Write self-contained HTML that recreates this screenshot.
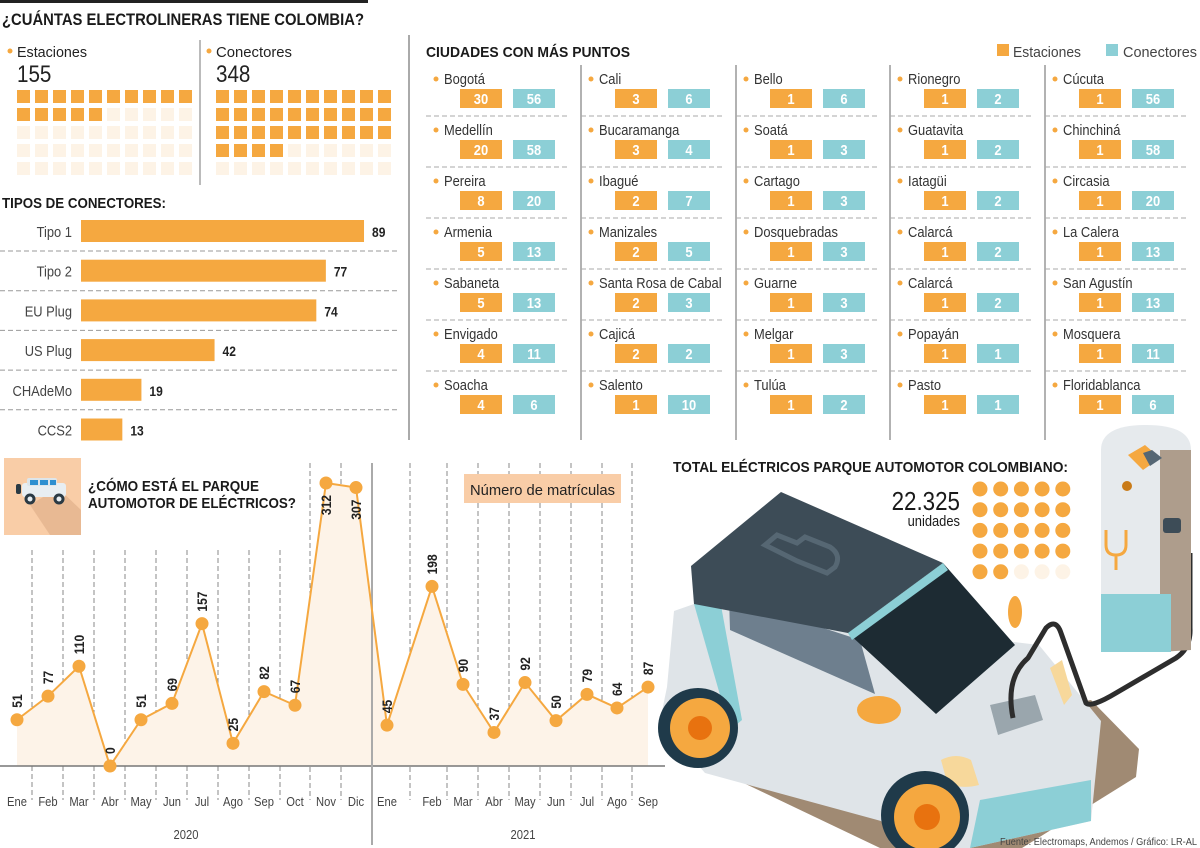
<!DOCTYPE html>
<html><head><meta charset="utf-8"><style>
body{margin:0;background:#fff;}
svg{display:block;font-family:"Liberation Sans",sans-serif;}
</style></head><body>
<svg id="root" width="1200" height="848" viewBox="0 0 1200 848" xmlns="http://www.w3.org/2000/svg">
<rect width="1200" height="848" fill="#fff"/>
<rect x="0" y="0" width="368" height="3" fill="#222"/>
<text x="2" y="25" font-size="17" font-weight="bold" fill="#1a1a1a" textLength="362" lengthAdjust="spacingAndGlyphs">¿CUÁNTAS ELECTROLINERAS TIENE COLOMBIA?</text>
<circle cx="10" cy="51" r="2.5" fill="#f5a840"/>
<text x="17" y="57" font-size="15" fill="#222" textLength="70" lengthAdjust="spacingAndGlyphs">Estaciones</text>
<text x="17" y="82" font-size="24" fill="#222">155</text>
<circle cx="209" cy="51" r="2.5" fill="#f5a840"/>
<text x="216" y="57" font-size="15" fill="#222" textLength="76" lengthAdjust="spacingAndGlyphs">Conectores</text>
<text x="216" y="82" font-size="24" fill="#222">348</text>
<rect x="199" y="40" width="2" height="145" fill="#bbb"/>
<g id="waffles"></g>
<text x="2" y="208" font-size="15" font-weight="bold" fill="#1a1a1a" textLength="164" lengthAdjust="spacingAndGlyphs">TIPOS DE CONECTORES:</text>
<g id="bars"></g>
<rect x="408" y="35" width="2" height="405" fill="#aaa"/>
<text x="426" y="57" font-size="15" font-weight="bold" fill="#1a1a1a" textLength="204" lengthAdjust="spacingAndGlyphs">CIUDADES CON MÁS PUNTOS</text>
<g>
<rect x="997" y="44" width="12" height="12" fill="#f5a840"/>
<text x="1013" y="57" font-size="15" fill="#444" textLength="68" lengthAdjust="spacingAndGlyphs">Estaciones</text>
<rect x="1106" y="44" width="12" height="12" fill="#8ccfd6"/>
<text x="1123" y="57" font-size="15" fill="#444" textLength="74" lengthAdjust="spacingAndGlyphs">Conectores</text>
</g>
<g id="cities"></g>

<rect x="4" y="458" width="77" height="77" fill="#f9cda7"/>
<polygon points="30,505 58,488 81,510 81,535 50,535" fill="#e8b993"/>
<g>
<rect x="22" y="483" width="44" height="14" rx="3" fill="#e8eef2"/>
<rect x="27" y="478" width="30" height="8" rx="2" fill="#dde5ea"/>
<rect x="30" y="480" width="8" height="5" fill="#2e8fd0"/><rect x="40" y="480" width="8" height="5" fill="#2e8fd0"/><rect x="50" y="480" width="6" height="5" fill="#2e8fd0"/>
<rect x="16" y="484" width="5" height="10" rx="2" fill="#2b3a44"/>
<circle cx="30" cy="499" r="5.5" fill="#2b3a44"/><circle cx="30" cy="499" r="2.5" fill="#e8eef2"/>
<circle cx="59" cy="499" r="5.5" fill="#2b3a44"/><circle cx="59" cy="499" r="2.5" fill="#e8eef2"/>
</g>
<text x="88" y="491" font-size="15" font-weight="bold" fill="#1a1a1a" textLength="171" lengthAdjust="spacingAndGlyphs">¿CÓMO ESTÁ EL PARQUE</text>
<text x="88" y="508" font-size="15" font-weight="bold" fill="#1a1a1a" textLength="208" lengthAdjust="spacingAndGlyphs">AUTOMOTOR DE ELÉCTRICOS?</text>
<g id="linechart"></g>
<rect x="464" y="474" width="157" height="29" fill="#f9cda7"/>
<text x="470" y="495" font-size="15" fill="#222" textLength="145" lengthAdjust="spacingAndGlyphs">Número de matrículas</text>

<g>
<polygon points="708,766 1091,700 1139,749 1136,777 1022,848 880,848" fill="#a08a73"/>
<polygon points="674,611 694,604 1039,645 1101,721 1091,821 970,848 901,848 881,821 705,773 660,721 667,687" fill="#dfe4e8"/>
<polygon points="980,800 1091,780 1091,821 970,848" fill="#8ccfd6"/>
<polygon points="694,604 700,590 720,600 742,720 730,730" fill="#8ccfd6"/>
<polygon points="729,597 860,640 875,694 730,630" fill="#6e7f8e"/>
<polygon points="691,566 781,492 943,563 848,633 694,604" fill="#3d4c57"/>
<path d="M765,545 l12,-10 l20,8 l8,-6 l25,10 q12,8 5,20 l-8,6 l-30,-12 z" fill="none" stroke="#566773" stroke-width="5"/>
<polygon points="848,633 943,563 1015,645 936,714" fill="#1d2b33"/>
<polygon points="848,633 943,563 948,570 852,640" fill="#8ccfd6"/>
<ellipse cx="879" cy="710" rx="22" ry="14" fill="#f5a840"/>
<ellipse cx="1015" cy="612" rx="7" ry="16" fill="#f5a840"/>
<polygon points="990,705 1035,695 1043,720 998,735" fill="#9aa6ad"/>
<path d="M941,760 q15,-8 30,0 l8,25 q-20,5 -32,-3 z" fill="#f7d89b"/>
<path d="M1050,668 l12,-8 l10,35 l-8,10 z" fill="#f7d89b"/>
<circle cx="698" cy="728" r="40" fill="#1f3a4a"/><circle cx="700" cy="728" r="30" fill="#f5a840"/><circle cx="700" cy="728" r="12" fill="#e8720f"/>
<circle cx="925" cy="815" r="44" fill="#1f3a4a"/><circle cx="927" cy="817" r="33" fill="#f5a840"/><circle cx="927" cy="817" r="13" fill="#e8720f"/>
<path d="M1013,718 q-8,-40 15,-60 l18,-30 q10,-10 15,5 l25,70 q5,5 30,-10 l60,-35 q15,-10 14,-30 l0,-75" fill="none" stroke="#2d2d2d" stroke-width="5"/>
<path d="M1101,450 q0,-25 45,-25 q45,0 45,25 l0,200 l-90,2 z" fill="#e6eaed"/>
<path d="M1160,450 l31,0 l0,200 l-31,2 z" fill="#a08a73" opacity="0.8"/>
<rect x="1101" y="594" width="70" height="58" fill="#8ccfd6"/>
<polygon points="1128,455 1145,445 1160,458 1143,470" fill="#f5a840"/>
<polygon points="1143,453 1152,450 1162,458 1150,466" fill="#556774"/>
<circle cx="1127" cy="486" r="5" fill="#c97b18"/>
<path d="M1106,530 l0,15 q0,10 10,10 l0,15 M1116,555 q10,0 10,-10 l0,-15" fill="none" stroke="#f5a840" stroke-width="3"/>
<rect x="1163" y="518" width="18" height="15" rx="3" fill="#3d4c57"/>
</g>
<text x="1197" y="845" font-size="10" fill="#444" text-anchor="end" textLength="197" lengthAdjust="spacingAndGlyphs">Fuente: Electromaps, Andemos / Gráfico: LR-AL</text>
<text x="673" y="472" font-size="15" font-weight="bold" fill="#1a1a1a" textLength="395" lengthAdjust="spacingAndGlyphs">TOTAL ELÉCTRICOS PARQUE AUTOMOTOR COLOMBIANO:</text>
<text x="960" y="510" font-size="26" fill="#1a1a1a" text-anchor="end">22.325</text>
<text x="960" y="526" font-size="15" fill="#1a1a1a" text-anchor="end">unidades</text>
<g id="dots"></g>
</svg>
<script>
const NS="http://www.w3.org/2000/svg";
function mk(tag,attrs,parent,txt){const e=document.createElementNS(NS,tag);for(const k in attrs)e.setAttribute(k,attrs[k]);if(txt!==undefined)e.textContent=txt;parent.appendChild(e);return e;}
const ORANGE="#f5a840",TEAL="#8ccfd6",LIGHT="#fdf3e6";

const waffleFilled=[15,34];
const waffleX0=[17,216];
const W=document.getElementById('waffles');
waffleFilled.forEach((n,w)=>{for(let i=0;i<50;i++){const c=i%10,r=Math.floor(i/10);
const el=mk('rect',{x:waffleX0[w]+c*18,y:90+r*18,width:13,height:13,fill:i<n?ORANGE:LIGHT},W);

}});

const barCats=["Tipo 1","Tipo 2","EU Plug","US Plug","CHAdeMo","CCS2"];
const barVals=[89,77,74,42,19,13];
const B=document.getElementById('bars');
const bx=v=>v*3.18;
barCats.forEach((c,i)=>{const y=220+i*39.7;
mk('text',{x:72,y:y+17,'font-size':15,fill:'#444','text-anchor':'end'},B,c);
const r=mk('rect',{x:81,y:y,width:bx(barVals[i]),height:22,fill:ORANGE},B);


mk('text',{x:81+bx(barVals[i])+8,y:y+17,'font-size':14,'font-weight':'bold',fill:'#222'},B,barVals[i]);
if(i<5)mk('line',{x1:0,x2:400,y1:y+31,y2:y+31,stroke:'#999','stroke-dasharray':'5 3'},B);});

const cityNames=[["Bogotá","Medellín","Pereira","Armenia","Sabaneta","Envigado","Soacha"],
["Cali","Bucaramanga","Ibagué","Manizales","Santa Rosa de Cabal","Cajicá","Salento"],
["Bello","Soatá","Cartago","Dosquebradas","Guarne","Melgar","Tulúa"],
["Rionegro","Guatavita","Iatagüi","Calarcá","Calarcá","Popayán","Pasto"],
["Cúcuta","Chinchiná","Circasia","La Calera","San Agustín","Mosquera","Floridablanca"]];
const cityStations=[[30,20,8,5,5,4,4],[3,3,2,2,2,2,1],[1,1,1,1,1,1,1],[1,1,1,1,1,1,1],[1,1,1,1,1,1,1]];
const cityConnectors=[[56,58,20,13,13,11,6],[6,4,7,5,3,2,10],[6,3,3,3,3,3,2],[2,2,2,2,2,1,1],[56,58,20,13,13,11,6]];
const C=document.getElementById('cities');
const colX=[436,591,746,900,1055];
colX.forEach((x,c)=>{
 if(c>0)mk('line',{x1:x-10,x2:x-10,y1:65,y2:440,stroke:'#999','stroke-width':1.5},C);
 cityNames[c].forEach((n,r)=>{const y=84+r*51;
 mk('circle',{cx:x,cy:y-5,r:2.5,fill:ORANGE},C);
 const t=mk('text',{x:x+8,y:y,'font-size':15,fill:'#333'},C,n);
 
 
 mk('rect',{x:x+24,y:y+5,width:42,height:19,fill:ORANGE},C);
 mk('text',{x:x+45,y:y+20,'font-size':15,'font-weight':'bold',fill:'#fff','text-anchor':'middle'},C,cityStations[c][r]);
 mk('rect',{x:x+77,y:y+5,width:42,height:19,fill:TEAL},C);
 mk('text',{x:x+98,y:y+20,'font-size':15,'font-weight':'bold',fill:'#fff','text-anchor':'middle'},C,cityConnectors[c][r]);
 if(r<6)mk('line',{x1:x-10,x2:x+132,y1:y+32,y2:y+32,stroke:'#aaa','stroke-dasharray':'5 3'},C);
 });});

const months=["Ene","Feb","Mar","Abr","May","Jun","Jul","Ago","Sep","Oct","Nov","Dic","Ene","Feb","Mar","Abr","May","Jun","Jul","Ago","Sep"];
const regs=[51,77,110,0,51,69,157,25,82,67,312,307,45,198,90,37,92,50,79,64,87];
const mx=[17,48,79,110,141,172,202,233,264,295,326,356,387,432,463,494,525,556,587,617,648];
const yS=v=>766-v*0.907;
const L=document.getElementById('linechart');
const divX=[32,63,94,125,156,187,218,249,280,310,341,410,447,478,509,540,571,602,632];
divX.forEach((x,i)=>{mk('line',{x1:x,x2:x,y1:(i>=9?463:550),y2:800,stroke:'#888','stroke-dasharray':'5 3'},L);});
let pts=regs.map((v,i)=>mx[i]+','+yS(v)).join(' ');
mk('polygon',{points:mx[0]+',766 '+pts+' '+mx[mx.length-1]+',766',fill:'#fdf3e8'},L);
mk('line',{x1:0,x2:665,y1:766,y2:766,stroke:'#777','stroke-width':1.5},L);
mk('line',{x1:372,x2:372,y1:463,y2:845,stroke:'#aaa','stroke-width':2},L);
const pl=mk('polyline',{points:pts,fill:'none',stroke:ORANGE,'stroke-width':2},L);


regs.forEach((v,i)=>{const x=mx[i],y=yS(v);
 const d=mk('circle',{cx:x,cy:y,r:6.5,fill:ORANGE},L);
 
 
 mk('text',{x:0,y:0,'font-size':14,'font-weight':'bold',fill:'#222',transform:`translate(${x+5},${v>300?y+12:y-12}) rotate(-90)`,'text-anchor':(v>300?'end':'start')},L,v);
 mk('text',{x:x,y:806,'font-size':13,fill:'#444','text-anchor':'middle'},L,months[i]);});
mk('text',{x:186,y:839,'font-size':13,fill:'#444','text-anchor':'middle'},L,'2020');
mk('text',{x:523,y:839,'font-size':13,fill:'#444','text-anchor':'middle'},L,'2021');

const dotsFilled=22;
const D=document.getElementById('dots');
for(let i=0;i<25;i++){const c=i%5,r=Math.floor(i/5);
 const e=mk('circle',{cx:980+c*20.7,cy:489+r*20.7,r:7.5,fill:i<dotsFilled?ORANGE:LIGHT},D);
 
 }

// condense text to mimic narrow font
document.querySelectorAll('#root text').forEach(t=>{
 if(t.hasAttribute('textLength'))return;
 const w=t.getComputedTextLength();
 if(w>0){t.setAttribute('textLength',(w*0.86).toFixed(1));t.setAttribute('lengthAdjust','spacingAndGlyphs');}
});
</script>
</body></html>
